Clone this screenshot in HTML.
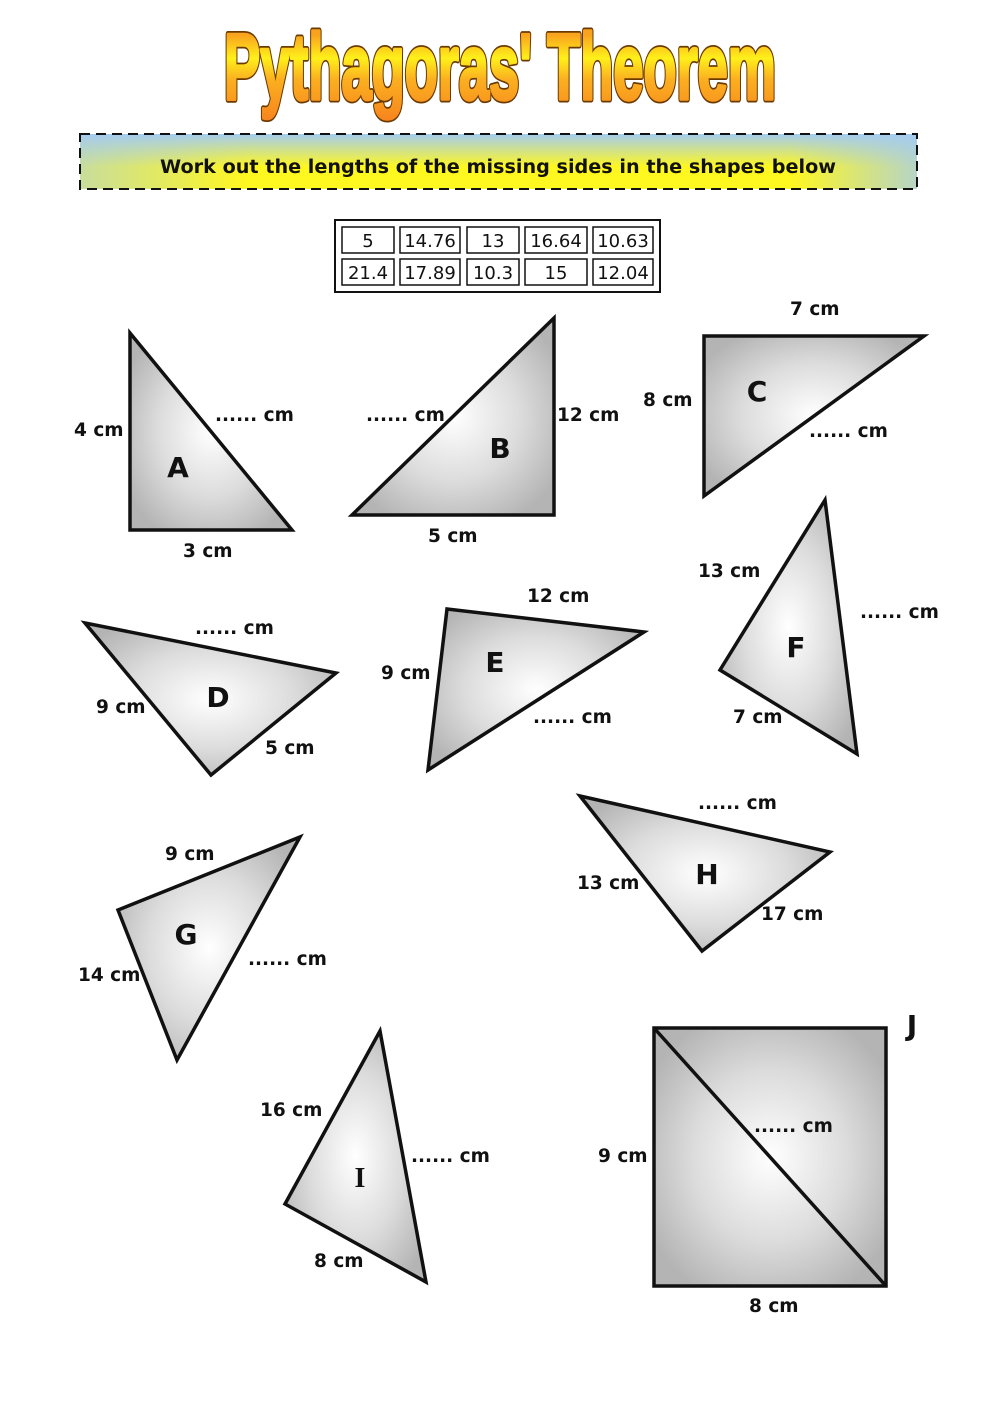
<!DOCTYPE html>
<html><head><meta charset="utf-8"><style>
html,body{margin:0;padding:0;background:#fff}
svg{display:block}
.l{font-family:"DejaVu Sans","Liberation Sans",sans-serif;font-weight:bold;font-size:18.5px;fill:#111}
.L{font-family:"DejaVu Sans","Liberation Sans",sans-serif;font-weight:bold;font-size:28px;fill:#111}
.t{font-family:"DejaVu Sans","Liberation Sans",sans-serif;font-size:18px;fill:#111}
.s{stroke:#111;stroke-width:3.5;stroke-linejoin:miter}
</style></head><body>
<svg width="1000" height="1413" viewBox="0 0 1000 1413" xmlns="http://www.w3.org/2000/svg">
<defs>
<radialGradient id="g" cx="0.5" cy="0.5" r="0.6">
<stop offset="0" stop-color="#ffffff"/><stop offset="0.55" stop-color="#dcdcdc"/><stop offset="1" stop-color="#b4b4b4"/>
</radialGradient>
<linearGradient id="tg" x1="0" y1="0" x2="0" y2="1">
<stop offset="0" stop-color="#f7911e"/><stop offset="0.2" stop-color="#f9a41e"/><stop offset="0.42" stop-color="#fff01a"/><stop offset="0.62" stop-color="#fbb020"/><stop offset="1" stop-color="#f7861e"/>
</linearGradient>
<linearGradient id="bg" x1="0" y1="0" x2="0" y2="1">
<stop offset="0" stop-color="#a4ccf0"/><stop offset="0.6" stop-color="#fff720"/><stop offset="1" stop-color="#fff720"/>
</linearGradient>
<linearGradient id="bg2" x1="0" y1="0" x2="1" y2="0">
<stop offset="0" stop-color="#a4ccf0" stop-opacity="0.6"/><stop offset="0.2" stop-color="#a4ccf0" stop-opacity="0"/><stop offset="0.85" stop-color="#a4ccf0" stop-opacity="0"/><stop offset="1" stop-color="#a4ccf0" stop-opacity="0.8"/>
</linearGradient>
</defs>
<text x="500" y="99" text-anchor="middle" textLength="552" lengthAdjust="spacingAndGlyphs" font-family="Liberation Sans Narrow,Liberation Sans,sans-serif" font-weight="bold" font-size="94" fill="#6b3a00" stroke="#6b3a00" stroke-width="7" stroke-linejoin="round">Pythagoras' Theorem</text>
<text x="500" y="99" text-anchor="middle" textLength="552" lengthAdjust="spacingAndGlyphs" font-family="Liberation Sans Narrow,Liberation Sans,sans-serif" font-weight="bold" font-size="94" fill="url(#tg)" stroke="url(#tg)" stroke-width="3.5" stroke-linejoin="round">Pythagoras' Theorem</text>
<rect x="80" y="134" width="837" height="55" fill="url(#bg)"/>
<rect x="80" y="134" width="837" height="55" fill="url(#bg2)" stroke="#111" stroke-width="2" stroke-dasharray="10,6"/>
<text x="498" y="173" text-anchor="middle" class="l" textLength="676" lengthAdjust="spacingAndGlyphs" font-size="20" font-weight="600">Work out the lengths of the missing sides in the shapes below</text>
<rect x="335" y="220" width="325" height="72" fill="#fff" stroke="#111" stroke-width="2"/>
<g fill="#fff" stroke="#111" stroke-width="1.5">
<rect x="342" y="227" width="52" height="26"/><rect x="400" y="227" width="60" height="26"/><rect x="467" y="227" width="52" height="26"/><rect x="525" y="227" width="62" height="26"/><rect x="593" y="227" width="60" height="26"/>
<rect x="342" y="259" width="52" height="26"/><rect x="400" y="259" width="60" height="26"/><rect x="467" y="259" width="52" height="26"/><rect x="525" y="259" width="62" height="26"/><rect x="593" y="259" width="60" height="26"/>
</g>
<g class="t" text-anchor="middle">
<text x="368" y="247">5</text><text x="430" y="247">14.76</text><text x="493" y="247">13</text><text x="556" y="247">16.64</text><text x="623" y="247">10.63</text>
<text x="368" y="279">21.4</text><text x="430" y="279">17.89</text><text x="493" y="279">10.3</text><text x="556" y="279">15</text><text x="623" y="279">12.04</text>
</g>
<g fill="url(#g)" class="s">
<polygon points="130,333 130,530 292,530"/>
<polygon points="352,515 554,318 554,515"/>
<polygon points="704,336 924,336 704,496"/>
<polygon points="85,623 336,673 211,775"/>
<polygon points="447,609 644,632 428,770"/>
<polygon points="825,500 720,670 857,754"/>
<polygon points="118,910 300,837 177,1060"/>
<polygon points="580,796 830,852 702,951"/>
<polygon points="380,1031 285,1204 426,1282"/>
<rect x="654" y="1028" width="232" height="258"/>
<line x1="654" y1="1028" x2="886" y2="1286"/>
</g>
<g class="L" text-anchor="middle">
<text x="178" y="477">A</text><text x="500" y="458">B</text><text x="757" y="401">C</text>
<text x="218" y="707">D</text><text x="495" y="672">E</text><text x="796" y="657">F</text>
<text x="186" y="944">G</text><text x="707" y="884">H</text>
<text x="360" y="1187" font-family="Liberation Serif,serif">I</text>
<text x="912" y="1035">J</text>
</g>
<g class="l">
<text x="74" y="436">4 cm</text><text x="215" y="421">...... cm</text><text x="183" y="557">3 cm</text>
<text x="366" y="421">...... cm</text><text x="557" y="421">12 cm</text><text x="428" y="542">5 cm</text>
<text x="790" y="315">7 cm</text><text x="643" y="406">8 cm</text><text x="809" y="437">...... cm</text>
<text x="195" y="634">...... cm</text><text x="96" y="713">9 cm</text><text x="265" y="754">5 cm</text>
<text x="527" y="602">12 cm</text><text x="381" y="679">9 cm</text><text x="533" y="723">...... cm</text>
<text x="698" y="577">13 cm</text><text x="860" y="618">...... cm</text><text x="733" y="723">7 cm</text>
<text x="165" y="860">9 cm</text><text x="78" y="981">14 cm</text><text x="248" y="965">...... cm</text>
<text x="698" y="809">...... cm</text><text x="577" y="889">13 cm</text><text x="761" y="920">17 cm</text>
<text x="260" y="1116">16 cm</text><text x="411" y="1162">...... cm</text><text x="314" y="1267">8 cm</text>
<text x="598" y="1162">9 cm</text><text x="754" y="1132">...... cm</text><text x="749" y="1312">8 cm</text>
</g>
</svg>
</body></html>
